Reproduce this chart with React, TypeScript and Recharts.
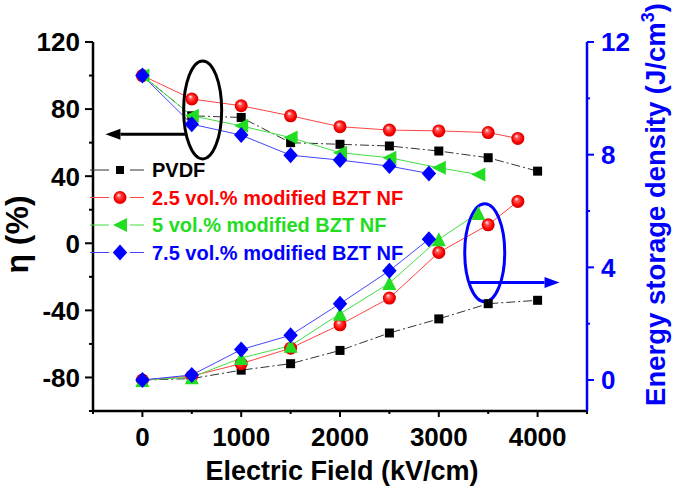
import React from 'react';
import {
  ComposedChart, Line, XAxis, YAxis, Legend, ReferenceDot, ReferenceLine, Customized,
} from 'recharts';

// ---------- data ----------
const fieldPVDF = [0, 500, 1000, 1500, 2000, 2500, 3000, 3500, 4000];
const etaPVDF = [100, 76, 75, 60, 59, 58, 55, 51, 43];
const wPVDF = [0, 0.05, 0.35, 0.58, 1.05, 1.67, 2.17, 2.71, 2.83];

const field25 = [0, 500, 1000, 1500, 2000, 2500, 3000, 3500, 3800];
const eta25 = [100, 86, 82, 76, 69.5, 67.5, 67, 66, 62.5];
const w25 = [0, 0.14, 0.58, 1.13, 1.96, 2.91, 4.53, 5.51, 6.34];

const field5 = [0, 500, 1000, 1500, 2000, 2500, 3000, 3400];
const eta5 = [100, 76, 70, 63, 54, 51, 45, 41];
const w5 = [0, 0.1, 0.78, 1.22, 2.35, 3.44, 5.0, 5.93];

const field75 = [0, 500, 1000, 1500, 2000, 2500, 2900];
const eta75 = [100, 71, 64.5, 52.5, 49.6, 46, 41.6];
const w75 = [0, 0.18, 1.08, 1.59, 2.71, 3.88, 5.0];

const xMajor = [0, 1000, 2000, 3000, 4000];
const xMinor = [-500, 500, 1500, 2500, 3500, 4500];
const etaMajor = [-80, -40, 0, 40, 80, 120];
const etaMinor = [-100, -60, -20, 20, 60, 100];
const wMajor = [0, 4, 8, 12];
const wMinor = [2, 6, 10];

const seriesNames = [
  'PVDF',
  '2.5 vol.% modified BZT NF',
  '5 vol.% modified BZT NF',
  '7.5 vol.% modified BZT NF',
];

const toRows = (xs: number[], ys: number[], key: string) => xs.map((x, i) => ({ x, [key]: ys[i] }));

const FONT = '"Liberation Sans", Arial, Helvetica, sans-serif';
const BLACK = '#000000';
const RED = '#ff0000';
const GREEN = '#22dd22';
const BLUE = '#0000ff';

// ---------- markers ----------
const Square = ({ cx, cy, s = 9 }: any) => (
  <rect x={cx - s / 2} y={cy - s / 2} width={s} height={s} fill={BLACK} />
);
const Ball = ({ cx, cy, r = 6.5 }: any) => (
  <circle cx={cx} cy={cy} r={r} fill="url(#ballGrad)" />
);
const TriLeft = ({ cx, cy, s = 7 }: any) => (
  <polygon points={`${cx - s},${cy} ${cx + s},${cy - s} ${cx + s},${cy + s}`} fill={GREEN} />
);
const TriUp = ({ cx, cy, s = 7 }: any) => (
  <polygon points={`${cx},${cy - s} ${cx - s},${cy + s} ${cx + s},${cy + s}`} fill={GREEN} />
);
const Diamond = ({ cx, cy, s = 8 }: any) => (
  <polygon points={`${cx},${cy - s} ${cx + s * 0.9},${cy} ${cx},${cy + s} ${cx - s * 0.9},${cy}`} fill={BLUE} />
);

const dotOf = (Comp: any) => (p: any) => {
  if (p.cx == null || p.cy == null) return <g key={p.index} />;
  return <Comp key={p.index} cx={p.cx} cy={p.cy} />;
};

// ---------- ticks ----------
const makeTick = (orient: 'left' | 'right' | 'bottom', majors: number[], color: string,
  tickSize: number, tickMargin: number, majorLen: number, minorLen: number, fontSize: number) => (props: any) => {
  const { x, y, payload } = props;
  const v = payload.value;
  const isMajor = majors.includes(v);
  const len = isMajor ? majorLen : minorLen;
  const sw = 2;
  if (orient === 'left') {
    const ax = x + tickMargin + tickSize;
    return (
      <g>
        <line x1={ax - len} x2={ax} y1={y} y2={y} stroke={color} strokeWidth={sw} />
        {isMajor && (
          <text x={x} y={y} dy="0.36em" textAnchor="end" fill={color} fontSize={fontSize}
            fontWeight="bold" fontFamily={FONT}>{v}</text>
        )}
      </g>
    );
  }
  if (orient === 'right') {
    const ax = x - tickMargin - tickSize;
    return (
      <g>
        <line x1={ax} x2={ax + len} y1={y} y2={y} stroke={color} strokeWidth={sw} />
        {isMajor && (
          <text x={x} y={y} dy="0.36em" textAnchor="start" fill={color} fontSize={fontSize}
            fontWeight="bold" fontFamily={FONT}>{v}</text>
        )}
      </g>
    );
  }
  const ay = y - tickMargin - tickSize;
  return (
    <g>
      <line x1={x} x2={x} y1={ay} y2={ay + len} stroke={color} strokeWidth={sw} />
      {isMajor && (
        <text x={x} y={y} dy="0.72em" textAnchor="middle" fill={color} fontSize={fontSize}
          fontWeight="bold" fontFamily={FONT}>{v}</text>
      )}
    </g>
  );
};

// ---------- annotations ----------
const Arrow = (color: string) => (p: any) => {
  const { x1, y1, x2, y2 } = p;
  const dx = x2 - x1, dy = y2 - y1;
  const L = Math.sqrt(dx * dx + dy * dy) || 1;
  const ux = dx / L, uy = dy / L;
  const hl = 15, hw = 5.5;
  const bx = x2 - ux * hl, by = y2 - uy * hl;
  return (
    <g>
      <line x1={x1} y1={y1} x2={bx} y2={by} stroke={color} strokeWidth={3} />
      <polygon points={`${x2},${y2} ${bx - uy * hw},${by + ux * hw} ${bx + uy * hw},${by - ux * hw}`} fill={color} />
    </g>
  );
};
const Ellipse = (color: string, rx: number, ry: number) => (p: any) => (
  <ellipse cx={p.cx} cy={p.cy} rx={rx} ry={ry} fill="none" stroke={color} strokeWidth={3} />
);

// ---------- legend ----------
const legendMarkers = [
  (cx: number, cy: number) => <Square cx={cx} cy={cy} s={8} />,
  (cx: number, cy: number) => <Ball cx={cx} cy={cy} r={6.5} />,
  (cx: number, cy: number) => <TriLeft cx={cx} cy={cy} s={7} />,
  (cx: number, cy: number) => <Diamond cx={cx} cy={cy} s={8} />,
];
const legendColors = [BLACK, RED, GREEN, BLUE];
const lineColors = ['#333333', '#ff4444', '#44dd44', '#4444ff'];

const LegendBox = () => (
  <svg width={330} height={112} style={{ overflow: 'visible', display: 'block' }}>
    <defs>
      <radialGradient id="ballGrad" cx="50%" cy="50%" r="50%" fx="38%" fy="30%">
        <stop offset="0%" stopColor="#ffffff" />
        <stop offset="30%" stopColor="#ff5555" />
        <stop offset="75%" stopColor="#ff0000" />
        <stop offset="100%" stopColor="#cc0000" />
      </radialGradient>
    </defs>
    {seriesNames.map((name, i) => {
      const cy = 12 + i * 27.5;
      return (
        <g key={name}>
          <line x1={2} x2={21} y1={cy} y2={cy} stroke={lineColors[i]} strokeWidth={1} />
          <line x1={42} x2={56} y1={cy} y2={cy} stroke={lineColors[i]} strokeWidth={1} />
          {legendMarkers[i](32, cy)}
          <text x={64} y={cy} dy="0.36em" fill={legendColors[i]} fontSize={20} fontWeight="bold"
            fontFamily={FONT}>{name}</text>
        </g>
      );
    })}
  </svg>
);

export default function App() {
  const dPVDFeta = toRows(fieldPVDF, etaPVDF, 'eta');
  const d25eta = toRows(field25, eta25, 'eta');
  const d5eta = toRows(field5, eta5, 'eta');
  const d75eta = toRows(field75, eta75, 'eta');
  const dPVDFw = toRows(fieldPVDF, wPVDF, 'w');
  const d25w = toRows(field25, w25, 'w');
  const d5w = toRows(field5, w5, 'w');
  const d75w = toRows(field75, w75, 'w');

  const xTicks = [...xMinor, ...xMajor].sort((a, b) => a - b);
  const etaTicks = [...etaMinor, ...etaMajor].sort((a, b) => a - b);
  const wTicks = [...wMinor, ...wMajor].sort((a, b) => a - b);

  return (
    <div style={{ position: 'absolute', left: 0, top: 0, width: 675, height: 487, background: '#fff' }}>
      <ComposedChart width={675} height={487} margin={{ top: 42, right: 0, bottom: 0, left: 0 }}>
        <Customized component={() => (
          <defs>
            <radialGradient id="ballGrad2" cx="50%" cy="50%" r="50%" fx="38%" fy="30%">
              <stop offset="0%" stopColor="#ffffff" />
              <stop offset="30%" stopColor="#ff5555" />
              <stop offset="75%" stopColor="#ff0000" />
              <stop offset="100%" stopColor="#cc0000" />
            </radialGradient>
          </defs>
        )} />
        <XAxis xAxisId="b" dataKey="x" type="number" domain={[-500, 4500]} ticks={xTicks} interval={0}
          allowDataOverflow height={76} tickSize={6} tickMargin={10} tickLine={false}
          axisLine={{ stroke: BLACK, strokeWidth: 2.5 }}
          tick={makeTick('bottom', xMajor, BLACK, 6, 10, 6, 3, 26)}
          label={{
            content: (p: any) => {
              const vb = p.viewBox;
              return (
                <text x={vb.x + vb.width / 2 + 2} y={vb.y + 59} dy="0.36em" textAnchor="middle" fontSize={27}
                  fontWeight="bold" fontFamily={FONT} fill={BLACK}>Electric Field (kV/cm)</text>
              );
            },
          }} />
        <XAxis xAxisId="t" orientation="top" type="number" domain={[-500, 4500]} height={0} tick={false}
          tickLine={false} axisLine={{ stroke: BLACK, strokeWidth: 2.5 }} />
        <YAxis yAxisId="eta" orientation="left" type="number" domain={[-100, 120]} ticks={etaTicks} interval={0}
          allowDataOverflow width={93} tickSize={8} tickMargin={5} tickLine={false}
          axisLine={{ stroke: BLACK, strokeWidth: 2.5 }}
          tick={makeTick('left', etaMajor, BLACK, 8, 5, 8, 4, 26)}
          label={{
            content: (p: any) => {
              const vb = p.viewBox;
              const cx = vb.x + 16, cy = vb.y + vb.height / 2 + 8;
              return (
                <text x={cx} y={cy} dy="0.36em" textAnchor="middle" fontSize={32} fontWeight="bold"
                  fontFamily={FONT} fill={BLACK} transform={`rotate(-90 ${cx} ${cy})`}>η (%)</text>
              );
            },
          }} />
        <YAxis yAxisId="w" orientation="right" type="number" domain={[-1.1, 12]} ticks={wTicks} interval={0}
          allowDataOverflow width={88} tickSize={7} tickMargin={7} tickLine={false}
          axisLine={{ stroke: BLUE, strokeWidth: 2.5 }}
          tick={makeTick('right', wMajor, BLUE, 7, 7, 7, 3, 26)}
          label={{
            content: (p: any) => {
              const vb = p.viewBox;
              const cx = vb.x + 68, cy = vb.y + vb.height / 2 - 22;
              return (
                <text x={cx} y={cy} dy="0.36em" textAnchor="middle" fontSize={27.5} fontWeight="bold"
                  fontFamily={FONT} fill={BLUE} transform={`rotate(-90 ${cx} ${cy})`}>
                  Energy storage density (J/cm<tspan dy="-11" fontSize={18}>3</tspan><tspan dy="11">)</tspan>
                </text>
              );
            },
          }} />

        <Line xAxisId="b" yAxisId="eta" data={dPVDFeta} dataKey="eta" stroke={lineColors[0]} strokeWidth={1}
          strokeDasharray="9 3 2 3" dot={dotOf(Square)} activeDot={false} isAnimationActive={false} />
        <Line xAxisId="b" yAxisId="eta" data={d25eta} dataKey="eta" stroke={lineColors[1]} strokeWidth={1}
          dot={dotOf(Ball)} activeDot={false} isAnimationActive={false} />
        <Line xAxisId="b" yAxisId="eta" data={d5eta} dataKey="eta" stroke={lineColors[2]} strokeWidth={1}
          dot={dotOf(TriLeft)} activeDot={false} isAnimationActive={false} />
        <Line xAxisId="b" yAxisId="eta" data={d75eta} dataKey="eta" stroke={lineColors[3]} strokeWidth={1}
          dot={dotOf(Diamond)} activeDot={false} isAnimationActive={false} />

        <Line xAxisId="b" yAxisId="w" data={dPVDFw} dataKey="w" stroke={lineColors[0]} strokeWidth={1}
          strokeDasharray="9 3 2 3" dot={dotOf(Square)} activeDot={false} isAnimationActive={false} />
        <Line xAxisId="b" yAxisId="w" data={d25w} dataKey="w" stroke={lineColors[1]} strokeWidth={1}
          dot={dotOf(Ball)} activeDot={false} isAnimationActive={false} />
        <Line xAxisId="b" yAxisId="w" data={d5w} dataKey="w" stroke={lineColors[2]} strokeWidth={1}
          dot={dotOf(TriUp)} activeDot={false} isAnimationActive={false} />
        <Line xAxisId="b" yAxisId="w" data={d75w} dataKey="w" stroke={lineColors[3]} strokeWidth={1}
          dot={dotOf(Diamond)} activeDot={false} isAnimationActive={false} />

        <ReferenceDot xAxisId="b" yAxisId="eta" x={610} y={79.5} r={1} shape={Ellipse(BLACK, 19, 49)} />
        <ReferenceLine xAxisId="b" yAxisId="eta" segment={[{ x: 434, y: 65 }, { x: -374, y: 65 }]}
          shape={Arrow(BLACK)} />
        <ReferenceDot xAxisId="b" yAxisId="w" x={3465} y={4.52} r={1} shape={Ellipse(BLUE, 20, 49)} />
        <ReferenceLine xAxisId="b" yAxisId="w" segment={[{ x: 3313, y: 3.46 }, { x: 4222, y: 3.46 }]}
          shape={Arrow(BLUE)} />

        <Legend layout="vertical" align="center" verticalAlign="middle" content={() => <LegendBox />}
          wrapperStyle={{ position: 'absolute', left: 88, top: 158, width: 330, height: 112 }} />
      </ComposedChart>
    </div>
  );
}
